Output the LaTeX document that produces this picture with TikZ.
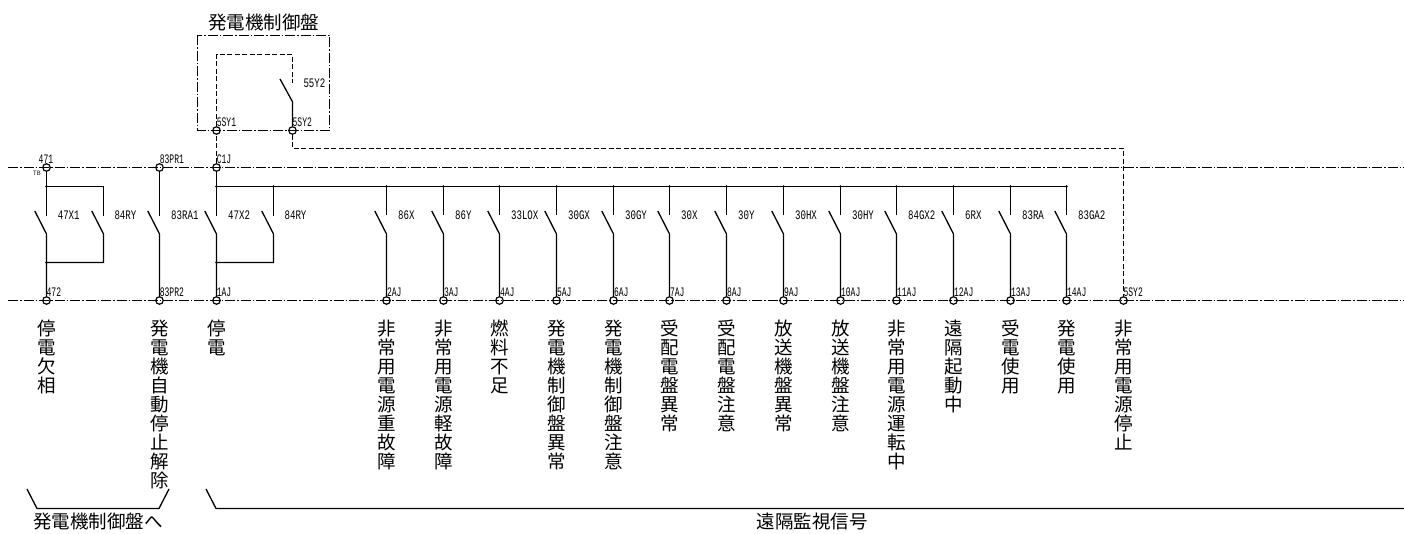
\documentclass[tikz,border=0pt]{standalone}
\usepackage{fontspec}
\usepackage{graphicx}
\newfontfamily\jp{Noto Sans CJK JP}
\newfontfamily\lm{Liberation Mono}
\ExplSyntaxOn
\NewDocumentCommand\vstack{m}{\vbox{\baselineskip=19pt\exp_args:No\tl_map_inline:nn{#1}{\hbox~to~20pt{\hss##1\hss}}}}
\ExplSyntaxOff
\newcommand\swlab[1]{\scalebox{0.7}[1]{#1}}
\newcommand\tmlab[1]{\scalebox{0.62}[1]{#1}}
\tikzset{
  wire/.style={line width=1.3pt,black},
  busline/.style={line width=1.3pt,black,dash pattern=on 10pt off 2pt on 1.5pt off 2pt},
  boxline/.style={line width=1.2pt,black,dash pattern=on 10pt off 2pt on 1.5pt off 2pt},
  ctrl/.style={line width=1.2pt,black,dash pattern=on 5pt off 2.5pt},
  term/.style={circle,draw,line width=1.2pt,minimum size=7.5pt,inner sep=0pt},
  swlabel/.style={font=\lm\fontsize{13}{14}\selectfont,text=black,anchor=west,inner sep=0pt},
  tmlabel/.style={font=\lm\fontsize{13}{14}\selectfont,text=black,anchor=south west,inner sep=0pt},
  jptext/.style={font=\jp\fontsize{18.5}{19}\selectfont,inner sep=0pt},
  dot/.style={circle,fill=black,minimum size=2.8pt,inner sep=0pt},
}
\begin{document}
\begin{tikzpicture}[x=1pt,y=-1pt]
\useasboundingbox (0,0) rectangle (1404,534);
% buses
\coordinate (tl) at (8,167.5); \coordinate (tr) at (1404,167.5);
\coordinate (bl) at (8,300.5); \coordinate (br) at (1404,300.5);
\draw[busline] (tl) -- (tr);
\draw[busline] (bl) -- (br);
% panel
\coordinate (p1) at (197.5,35.5); \coordinate (p2) at (329.5,130.5);
\draw[boxline] (p1) rectangle (p2);
\node[jptext] (ptitle) at (263.5,23) {発電機制御盤};
% terminals on the panel and top bus
\node[term] (t5sy1) at (216.5,130.5) {};
\node[term] (t5sy2) at (292.5,130.5) {};
\node[term] (t471) at (46.5,167.5) {};
\node[term] (t83pr1) at (159.5,167.5) {};
\node[term] (tc1j) at (216.5,167.5) {};
\node[term] (t472) at (46.5,300.5) {};
\node[term] (t83pr2) at (159.5,300.5) {};
\node[term] (t1aj) at (216.5,300.5) {};
\node[term] (t5sy2b) at (1123.5,300.5) {};
% labels
\node[tmlabel,anchor=south] (l471) at (46,164) {\tmlab{471}};
\node[font=\jp\fontsize{6}{6}\selectfont,inner sep=0pt] (ltb) at (37,173.3) {TB};
\node[tmlabel] (l83pr1) at (159.6,164) {\tmlab{83PR1}};
\node[tmlabel] (lc1j) at (216.6,164) {\tmlab{C1J}};
\node[tmlabel] (l472) at (46.4,297) {\tmlab{472}};
\node[tmlabel] (l83pr2) at (159.6,297) {\tmlab{83PR2}};
\node[tmlabel] (l1aj) at (216.6,297) {\tmlab{1AJ}};
\node[tmlabel] (l5sy1) at (216.6,127) {\tmlab{5SY1}};
\node[tmlabel] (l5sy2) at (292.4,127) {\tmlab{5SY2}};
\node[tmlabel] (l5sy2b) at (1123.3,297) {\tmlab{5SY2}};
% panel control wiring
\coordinate (c1) at (216.5,54.5); \coordinate (c2) at (292.5,54.5);
\coordinate (c3) at (292.5,83); \coordinate (cb) at (292.5,101.7); \coordinate (cbl) at (280,79);
\draw[ctrl] (tc1j) -- (t5sy1) -- (c1) -- (c2) -- (c3);
\draw[wire] (cbl) -- (cb) -- (t5sy2);
\node[swlabel] (l55y2) at (303.3,83) {\swlab{55Y2}};
\coordinate (c4) at (292.5,148.5); \coordinate (c5) at (1123.5,148.5);
\draw[ctrl] (t5sy2) -- (c4) -- (c5) -- (t5sy2b);
% common rail
\coordinate (railend) at (1066.5,186.5);
\draw[wire] (tc1j) -- (216.5,186.5) -- (railend) -- ++(0,29);
% left-hand switches
\coordinate (a1) at (46.5,186.5); \coordinate (a2) at (103.5,186.5);
\coordinate (a3) at (46.5,262.5); \coordinate (a4) at (103.5,262.5);
\draw[wire] (t471) -- (a1) -- (46.5,215.7);
\draw[wire] (a1) -- (a2) -- (103.5,215.7);
\draw[wire] (34.8,211) -- (46.5,234) -- (a3) -- (t472);
\draw[wire] (91.8,211) -- (103.5,234) -- (a4) -- (a3);
\node[dot] at (a1) {}; \node[dot] at (a3) {};
\node[swlabel] at (57.6,215) {\swlab{47X1}};
\node[swlabel] at (114.3,215) {\swlab{84RY}};
\draw[wire] (t83pr1) -- (159.5,215.7);
\draw[wire] (147.8,211) -- (159.5,234) -- (t83pr2);
\node[swlabel] at (171,215) {\swlab{83RA1}};
\coordinate (b3) at (216.5,262.5); \coordinate (b4) at (273.5,262.5);
\draw[wire] (216.5,186.5) -- (216.5,215.7);
\draw[wire] (273.5,186.5) -- (273.5,215.7);
\draw[wire] (204.8,211) -- (216.5,234) -- (b3) -- (t1aj);
\draw[wire] (261.8,211) -- (273.5,234) -- (b4) -- (b3);
\node[dot] at (216.5,186.5) {}; \node[dot] at (273.5,186.5) {}; \node[dot] at (b3) {};
\node[swlabel] at (228,215) {\swlab{47X2}};
\node[swlabel] at (284.4,215) {\swlab{84RY}};
% branch switches
\foreach \x/\sw/\tm/\txt in {
 386.5/86X/2AJ/非常用電源重故障,
 443.5/86Y/3AJ/非常用電源軽故障,
 499.5/33LOX/4AJ/燃料不足,
 556.5/30GX/5AJ/発電機制御盤異常,
 613.5/30GY/6AJ/発電機制御盤注意,
 669.5/30X/7AJ/受配電盤異常,
 726.5/30Y/8AJ/受配電盤注意,
 783.5/30HX/9AJ/放送機盤異常,
 840.5/30HY/10AJ/放送機盤注意,
 896.5/84GX2/11AJ/非常用電源運転中,
 953.5/6RX/12AJ/遠隔起動中,
 1010.5/83RA/13AJ/受電使用,
 1066.5/83GA2/14AJ/発電使用}{
  \node[term] (t\tm) at (\x,300.5) {};
  \coordinate (r\tm) at (\x,186.5);
  \draw[wire] (r\tm) -- ++(0,29);
  \draw[wire] (\x-11.7,211) -- (\x,234) -- (t\tm);
  \node[dot] at (r\tm) {};
  \node[swlabel] at (\x+11.4,215) {\swlab{\sw}};
  \node[tmlabel] at (\x+0.3,297) {\tmlab{\tm}};
  \node[jptext,anchor=north] at (\x,320) {\vstack{\txt}};
}
% left vertical texts
\node[jptext,anchor=north] at (46.5,320) {\vstack{停電欠相}};
\node[jptext,anchor=north] at (159.5,320) {\vstack{発電機自動停止解除}};
\node[jptext,anchor=north] at (216.5,320) {\vstack{停電}};
\node[jptext,anchor=north] at (1123.5,320) {\vstack{非常用電源停止}};
% braces
\coordinate (g1) at (27,489); \coordinate (g2) at (37,508.5); \coordinate (g3) at (159,508.5); \coordinate (g4) at (169,489);
\draw[wire] (g1) -- (g2) -- (g3) -- (g4);
\coordinate (g5) at (206,489); \coordinate (g6) at (216,508.5); \coordinate (g7) at (1404,508.5);
\draw[wire] (g5) -- (g6) -- (g7);
\node[jptext] (cap1) at (98,521.5) {発電機制御盤へ};
\node[jptext] (cap2) at (812,521.5) {遠隔監視信号};
\end{tikzpicture}
\end{document}
